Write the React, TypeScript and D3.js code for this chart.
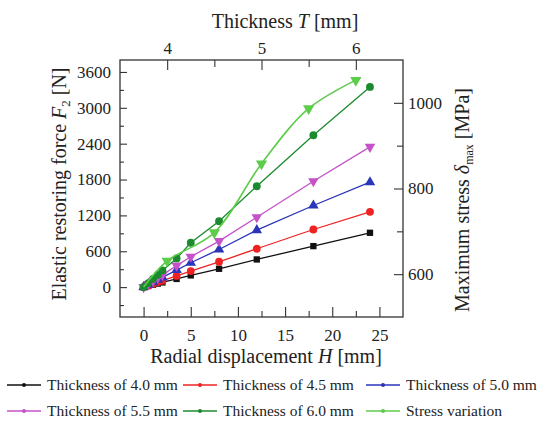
import React, { useEffect, useRef } from 'react';
import * as d3 from 'd3';

// radial displacement H [mm] where each thickness was evaluated
const displacement = [0, 0.5, 1, 1.5, 2, 3.5, 5, 8, 12, 18, 24];
// elastic restoring force F2 [N] for each thickness
const force40 = [0, 19, 39, 58, 78, 137, 196, 307, 463, 686, 909];
const force45 = [0, 27, 54, 80, 107, 188, 268, 424, 642, 964, 1260];
const force50 = [0, 41, 81, 122, 163, 285, 408, 630, 953, 1366, 1755];
const force55 = [0, 52, 103, 155, 205, 360, 508, 769, 1170, 1772, 2346];
const force60 = [0, 68, 137, 205, 280, 480, 742, 1103, 1688, 2541, 3349];
// maximum stress vs thickness
const thickness = [3.75, 4.0, 4.5, 5.0, 5.5, 6.0];
const stress = [570, 631, 697, 858, 987, 1053];

const forceTicks = [0, 600, 1200, 1800, 2400, 3000, 3600];
const dispTicks = [0, 5, 10, 15, 20, 25];
const thickTicks = [4, 5, 6];
const stressTicks = [600, 800, 1000];

const series = [
  { label: 'Thickness of 4.0 mm', values: force40, color: '#111111', symbol: d3.symbolSquare },
  { label: 'Thickness of 4.5 mm', values: force45, color: '#ee2222', symbol: d3.symbolCircle },
  { label: 'Thickness of 5.0 mm', values: force50, color: '#2b35b8', symbol: d3.symbolTriangle },
  { label: 'Thickness of 5.5 mm', values: force55, color: '#c552c8', symbol: d3.symbolTriangle, flip: true },
  { label: 'Thickness of 6.0 mm', values: force60, color: '#1c8a2e', symbol: d3.symbolCircle },
];
const stressColor = '#5ccc4a';

const App = () => {
  const ref = useRef<SVGSVGElement>(null);

  useEffect(() => {
    const svg = d3.select(ref.current);
    svg.selectAll('*').remove();

    const left = 120, right = 403, top = 60, bottom = 317;
    const font = '"Liberation Serif", "Times New Roman", serif';
    const fmt = d3.format('d');

    const x = d3.scaleLinear().domain([-2.5, 27.5]).range([left, right]);
    const xT = d3.scaleLinear().domain([3.5, 6.5]).range([left, right]);
    const y = d3.scaleLinear().domain([-500, 3800]).range([bottom, top]);
    const yS = d3.scaleLinear().domain([500, 1100]).range([bottom, top]);

    const styleAxis = (g) => {
      g.select('.domain').remove();
      g.selectAll('line').attr('stroke', '#333').attr('stroke-width', 1.1);
      g.selectAll('text').style('font-family', font).attr('font-size', 17).attr('fill', '#222');
    };

    // minor ticks
    svg.append('g').attr('transform', `translate(${left},0)`)
      .call(d3.axisLeft(y).tickValues(d3.range(-300, 3800, 600)).tickSize(-4).tickFormat(() => ''))
      .call(styleAxis);
    svg.append('g').attr('transform', `translate(0,${bottom})`)
      .call(d3.axisBottom(x).tickValues(d3.range(2.5, 27.5, 5)).tickSize(-6).tickFormat(() => ''))
      .call(styleAxis);
    svg.append('g').attr('transform', `translate(0,${top})`)
      .call(d3.axisTop(xT).tickValues([4.5, 5.5]).tickSize(-7).tickFormat(() => ''))
      .call(styleAxis);
    svg.append('g').attr('transform', `translate(${right},0)`)
      .call(d3.axisRight(yS).tickValues([700, 900]).tickSize(-6).tickFormat(() => ''))
      .call(styleAxis);

    // major ticks
    svg.append('g').attr('transform', `translate(${left},0)`)
      .call(d3.axisLeft(y).tickValues(forceTicks).tickSize(-7).tickPadding(9).tickFormat(fmt))
      .call(styleAxis);
    svg.append('g').attr('transform', `translate(0,${bottom})`)
      .call(d3.axisBottom(x).tickValues(dispTicks).tickSize(-10).tickPadding(12).tickFormat(fmt))
      .call(styleAxis);
    svg.append('g').attr('transform', `translate(0,${top})`)
      .call(d3.axisTop(xT).tickValues(thickTicks).tickSize(-10).tickPadding(6).tickFormat(fmt))
      .call(styleAxis);
    svg.append('g').attr('transform', `translate(${right},0)`)
      .call(d3.axisRight(yS).tickValues(stressTicks).tickSize(-9).tickPadding(5).tickFormat(fmt))
      .call(styleAxis);

    svg.append('rect')
      .attr('x', left).attr('y', top).attr('width', right - left).attr('height', bottom - top)
      .attr('fill', 'none').attr('stroke', '#333').attr('stroke-width', 1.3);

    // force series
    series.forEach((s) => {
      const line = d3.line<number>().x((_, i) => x(displacement[i])).y((d) => y(d));
      svg.append('path').datum(s.values)
        .attr('d', line).attr('fill', 'none').attr('stroke', s.color).attr('stroke-width', 1.3);
      svg.append('g').selectAll('path').data(s.values).join('path')
        .attr('d', d3.symbol().type(s.symbol).size(s.symbol === d3.symbolSquare ? 40 : 48))
        .attr('transform', (d, i) => `translate(${x(displacement[i])},${y(d)})${s.flip ? ' rotate(180)' : ''}`)
        .attr('fill', s.color);
    });

    // stress series
    const sLine = d3.line<number>().x((_, i) => xT(thickness[i])).y((d) => yS(d)).curve(d3.curveCatmullRom);
    svg.append('path').datum(stress)
      .attr('d', sLine).attr('fill', 'none').attr('stroke', stressColor).attr('stroke-width', 1.6);
    svg.append('g').selectAll('path').data(stress.slice(1)).join('path')
      .attr('d', d3.symbol().type(d3.symbolTriangle).size(55))
      .attr('transform', (d, i) => `translate(${xT(thickness[i + 1])},${yS(d)}) rotate(180)`)
      .attr('fill', stressColor);

    const addText = (tx: number, ty: number, rotate = false) =>
      svg.append('text')
        .attr('transform', `translate(${tx},${ty})${rotate ? ' rotate(-90)' : ''}`)
        .attr('text-anchor', 'middle').style('font-family', font)
        .attr('font-size', 20).attr('fill', '#222');

    // axis titles
    const top1 = addText(285, 28);
    top1.append('tspan').text('Thickness ');
    top1.append('tspan').attr('font-style', 'italic').text('T');
    top1.append('tspan').text(' [mm]');

    const bot = addText(266, 363);
    bot.append('tspan').text('Radial displacement ');
    bot.append('tspan').attr('font-style', 'italic').text('H');
    bot.append('tspan').text(' [mm]');

    const lt = addText(66, 184, true);
    lt.append('tspan').text('Elastic restoring force ');
    lt.append('tspan').attr('font-style', 'italic').text('F');
    lt.append('tspan').attr('font-size', 13).attr('dy', 4).text('2');
    lt.append('tspan').attr('dy', -4).text(' [N]');

    const rt = addText(469, 200, true);
    rt.append('tspan').text('Maximum stress ');
    rt.append('tspan').attr('font-style', 'italic').text('δ');
    rt.append('tspan').attr('font-size', 12).attr('dy', 4).text('max');
    rt.append('tspan').attr('dy', -4).text(' [MPa]');

    // legend
    const legendItems = [
      ...series.map((s) => ({ label: s.label, color: s.color })),
      { label: 'Stress variation', color: stressColor },
    ];
    const cols = [7, 183, 366];
    const rows = [385, 411];
    legendItems.forEach((item, i) => {
      const lx = cols[i % 3];
      const ly = rows[Math.floor(i / 3)];
      const g = svg.append('g').attr('transform', `translate(${lx},${ly})`);
      g.append('line').attr('x1', 0).attr('x2', 34).attr('y1', 0).attr('y2', 0)
        .attr('stroke', item.color).attr('stroke-width', 1.3);
      g.append('circle').attr('cx', 17).attr('cy', 0).attr('r', 2).attr('fill', item.color);
      g.append('text').attr('x', 40).attr('y', 5)
        .style('font-family', font).attr('font-size', 15.5).attr('fill', '#222').text(item.label);
    });
  }, []);

  return <svg ref={ref} width={546} height={422} style={{ position: 'absolute', left: 0, top: 0, background: '#fff' }}></svg>;
};

export default App;
